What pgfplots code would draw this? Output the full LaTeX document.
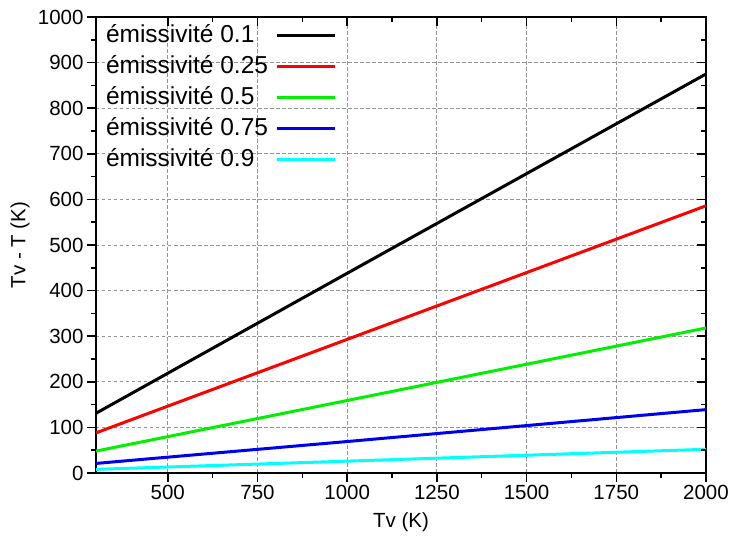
\documentclass[border=0pt]{standalone}
\usepackage{pgfplots}
\pgfplotsset{compat=1.18}
\usepackage{fontspec}
\setmainfont{Liberation Sans}
\definecolor{cgreen}{RGB}{0,240,0}
\definecolor{ccyan}{RGB}{0,255,255}
\definecolor{cblue}{RGB}{0,0,240}
\definecolor{cred}{RGB}{255,0,0}
\begin{document}
\begin{tikzpicture}
\pgfplotsset{
  base/.style={
    scale only axis, width=610pt, height=456pt,
    xmin=300, xmax=2000, ymin=0, ymax=1000,
    xtick={500,750,1000,1250,1500,1750,2000},
    ytick={0,100,...,1000},
    minor x tick num=1, minor y tick num=1,
    major tick length=9pt, minor tick length=5pt,
    every tick/.style={black, line width=1.5pt},
    axis line style={line width=2pt},
    /pgf/number format/assume math mode=true,
    /pgf/number format/1000 sep={},
    tick label style={font=\fontsize{20.5}{24}\selectfont},
  }
}
\begin{axis}[base, name=ax,
  xtick pos=left, ytick pos=left, tick align=outside,
  grid=major, grid style={dash pattern=on 3.5pt off 2.5pt, gray!85, line width=0.8pt},
  xlabel={Tv (K)}, ylabel={Tv - T (K)},
  label style={font=\fontsize{20.5}{24}\selectfont},
  xlabel style={at={(axis description cs:0.5,-0.1075)}, anchor=center},
  ylabel style={at={(axis description cs:-0.1246,0.5)}, anchor=center},
  legend plot pos=right, legend cell align=left,
  legend style={draw=none, fill=none, inner sep=0pt, outer sep=0pt,
    at={(axis description cs:0.0164,0.9846)}, anchor=north west,
    font=\fontsize{24.5}{28}\selectfont, row sep=8pt, column sep=7pt,
    nodes={inner sep=0pt, text height=18pt, text depth=5pt}},
  legend image code/.code={\draw[#1, line width=3pt] (0pt,0pt) -- (58pt,0pt);},
  every axis plot/.append style={line width=3pt},
]
\addplot[black] coordinates {(300,131) (1000,438) (2000,875)};
\addlegendentry{émissivité 0.1}
\addplot[cred] coordinates {(300,88) (1000,293) (2000,586)};
\addlegendentry{émissivité 0.25}
\addplot[cgreen] coordinates {(300,48) (1000,159) (2000,318)};
\addlegendentry{émissivité 0.5}
\addplot[cblue] coordinates {(300,21) (1000,69) (2000,139)};
\addlegendentry{émissivité 0.75}
\addplot[ccyan] coordinates {(300,8) (1000,26) (2000,52)};
\addlegendentry{émissivité 0.9}
\end{axis}
\begin{axis}[base,
  xtick pos=right, ytick pos=right, tick align=inside,
  xticklabels={}, yticklabels={}, axis line style={draw=none},
]
\end{axis}
\path (ax.south west) ++(-96pt,-67pt);
\path (ax.north east) ++(27pt,17pt);
\end{tikzpicture}
\end{document}
